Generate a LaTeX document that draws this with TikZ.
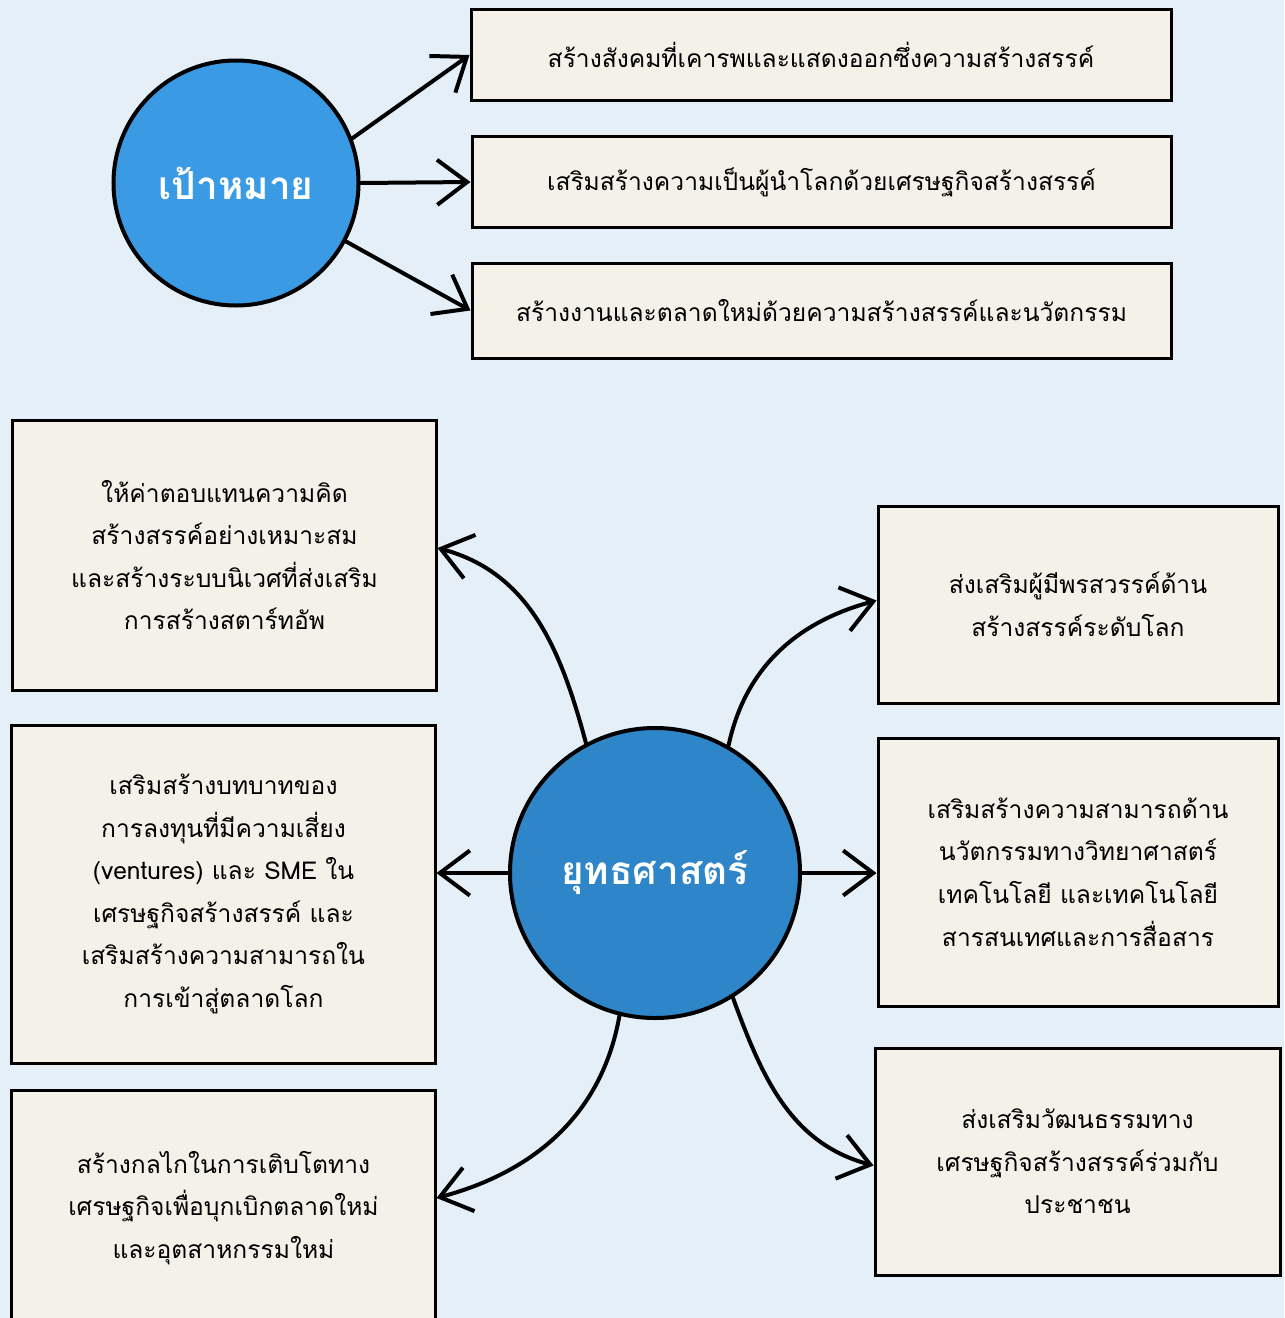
\documentclass[tikz,border=0pt]{standalone}
\usepackage{fontspec}
\newfontfamily\thaifont[Script=Thai]{Loma}
\usepackage{xcolor}
\usepackage{tikz}
\usetikzlibrary{arrows.meta,positioning,calc,backgrounds}
\definecolor{paper}{HTML}{E4EFF8}
\definecolor{cream}{HTML}{F3F1E8}
\definecolor{goalblue}{HTML}{3A9AE4}
\definecolor{stratblue}{HTML}{2E86C8}
\tikzset{
  hub/.style={
    circle,
    draw=black,
    line width=0.8mm,
    align=center,
    text=white,
    font=\thaifont\bfseries\fontsize{22}{26}\selectfont
  }
}
\tikzset{
  goal hub/.style={
    hub,
    fill=goalblue,
    minimum size=49mm
  }
}
\tikzset{
  strategy hub/.style={
    hub,
    fill=stratblue,
    minimum size=58mm
  }
}
\tikzset{
  card/.style={
    rectangle,
    draw=black,
    fill=cream,
    line width=0.6mm,
    inner sep=0pt,
    align=center,
    font=\thaifont\fontsize{14}{24.2}\selectfont
  }
}
\tikzset{
  relation/.style={
    -{Straight Barb[length=6mm,width=9mm]},
    draw=black,
    line width=0.8mm,
    line cap=round
  }
}
\begin{document}
\begin{tikzpicture}[x=0.2mm,y=-0.2mm]

    % ------------------------------------------------------------
    % Canvas
    % ------------------------------------------------------------

    \fill[paper] (0,0) rectangle (1284,1318);
    \useasboundingbox (0,0) rectangle (1284,1318);

    % ------------------------------------------------------------
    % Nodes
    % ------------------------------------------------------------

    \node[goal hub] (goal) at (236,183) {เป้าหมาย};

    \node[card,minimum width=140mm,minimum height=18mm] (G1) at (821,55)
    {สร้างสังคมที่เคารพและแสดงออกซึ่งความสร้างสรรค์};

    \node[card,minimum width=139.8mm,minimum height=18mm] (G2) at (821.5,182)
    {เสริมสร้างความเป็นผู้นำโลกด้วยเศรษฐกิจสร้างสรรค์};

    \node[card,minimum width=139.8mm,minimum height=19mm] (G3) at (821.5,310.5)
    {สร้างงานและตลาดใหม่ด้วยความสร้างสรรค์และนวัตกรรม};

    \node[strategy hub] (strat) at (655,873) {ยุทธศาสตร์};

    \node[card,minimum width=84.6mm,minimum height=54mm] (L1) at (224.5,555)
    {
      ให้ค่าตอบแทนความคิด\\
      สร้างสรรค์อย่างเหมาะสม\\
      และสร้างระบบนิเวศที่ส่งเสริม\\
      การสร้างสตาร์ทอัพ
    };

    \node[card,minimum width=84.6mm,minimum height=67.6mm] (L2) at (223.5,894)
    {
      เสริมสร้างบทบาทของ\\
      การลงทุนที่มีความเสี่ยง\\
      (ventures) และ SME ใน\\
      เศรษฐกิจสร้างสรรค์ และ\\
      เสริมสร้างความสามารถใน\\
      การเข้าสู่ตลาดโลก
    };

    \node[card,minimum width=84.6mm,minimum height=47.2mm] (L3) at (223.5,1208)
    {
      สร้างกลไกในการเติบโตทาง\\
      เศรษฐกิจเพื่อบุกเบิกตลาดใหม่\\
      และอุตสาหกรรมใหม่
    };

    \node[card,minimum width=80mm,minimum height=39.4mm] (R1) at (1078,604.5)
    {
      ส่งเสริมผู้มีพรสวรรค์ด้าน\\
      สร้างสรรค์ระดับโลก
    };

    \node[card,minimum width=80mm,minimum height=53.6mm] (R2) at (1078,872)
    {
      เสริมสร้างความสามารถด้าน\\
      นวัตกรรมทางวิทยาศาสตร์\\
      เทคโนโลยี และเทคโนโลยี\\
      สารสนเทศและการสื่อสาร
    };

    \node[card,minimum width=81mm,minimum height=45.4mm] (R3) at (1077.5,1161.5)
    {
      ส่งเสริมวัฒนธรรมทาง\\
      เศรษฐกิจสร้างสรรค์ร่วมกับ\\
      ประชาชน
    };

    % ------------------------------------------------------------
    % Edges
    % ------------------------------------------------------------

    \draw[relation]
      (goal.21)
      --
      (G1.west);

    \draw[relation]
      (goal.east)
      --
      (G2.west);

    \draw[relation]
      (goal.-28)
      --
      (G3.west);

    \draw[relation]
      (strat.118)
      to[out=105,in=-15]
      ([yshift=1.4mm]L1.east);

    \draw[relation]
      (strat.60)
      to[out=78,in=195]
      ([yshift=0.8mm]R1.west);

    \draw[relation]
      (strat.west)
      --
      (strat.west -| L2.east);

    \draw[relation]
      (strat.east)
      --
      (strat.east -| R2.west);

    \draw[relation]
      (strat.-104)
      to[out=-100,in=15]
      ([yshift=2mm]L3.east);

    \draw[relation]
      (strat.-58)
      to[out=-70,in=165]
      ([yshift=-0.8mm]R3.west);

    \end{tikzpicture}
\end{document}
